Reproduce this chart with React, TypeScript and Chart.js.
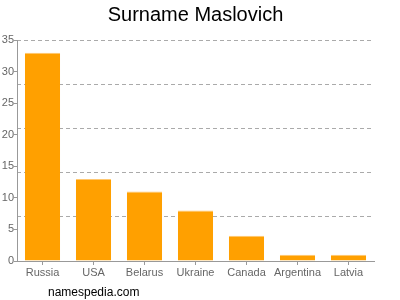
import React, { useEffect, useRef } from "react";
import { Chart, registerables } from "chart.js";

Chart.register(...registerables);

const categories = ["Russia", "USA", "Belarus", "Ukraine", "Canada", "Argentina", "Latvia"];
const counts = [33, 13, 11, 8, 4, 1, 1];
const titleText = "Surname Maslovich";
const footerText = "namespedia.com";

const textPlugin = {
  id: "texts",
  afterDraw(chart: any) {
    const ctx = chart.ctx;
    const area = chart.chartArea;
    ctx.save();
    ctx.fillStyle = "#000";
    ctx.font = "20px 'Liberation Sans', Arial, sans-serif";
    ctx.textAlign = "center";
    ctx.textBaseline = "alphabetic";
    ctx.fillText(titleText, (area.left + area.right) / 2, 21);
    ctx.font = "12px 'Liberation Sans', Arial, sans-serif";
    ctx.textAlign = "left";
    ctx.fillText(footerText, 48, 296);
    ctx.restore();
  },
};

export default function App() {
  const ref = useRef<HTMLCanvasElement>(null);
  useEffect(() => {
    const chart = new Chart(ref.current!, {
      type: "bar",
      data: {
        labels: categories,
        datasets: [
          {
            data: counts,
            backgroundColor: "#ffa000",
            borderColor: "#ffc870",
            borderWidth: { top: 1, left: 0, right: 0, bottom: 0 },
            borderSkipped: "bottom",
            barPercentage: 0.69,
            categoryPercentage: 1,
          },
        ],
      },
      options: {
        animation: false,
        responsive: false,
        layout: { padding: { top: 40, right: 26, left: 0, bottom: 0 } },
        plugins: { legend: { display: false }, tooltip: { enabled: false }, title: { display: false } },
        scales: {
          x: {
            grid: { display: true, drawOnChartArea: false, drawTicks: true, tickLength: 4, offset: false, color: "#999" },
            border: { display: true, color: "#999" },
            ticks: { color: "#666", font: { size: 11, family: "'Liberation Sans', Arial, sans-serif" }, padding: 1, maxRotation: 0, autoSkip: false },
            afterFit: (s: any) => { s.height = 39; },
          },
          y: {
            min: 0,
            max: 35,
            position: "left",
            grid: { display: true, drawOnChartArea: false, drawTicks: true, tickLength: 3, color: "#999" },
            border: { display: true, color: "#999" },
            ticks: { stepSize: 5, color: "#666", font: { size: 11, family: "'Liberation Sans', Arial, sans-serif" }, padding: 0 },
            afterFit: (s: any) => { s.width = 17; },
          },
          y2: {
            min: 0,
            max: 35,
            position: "left",
            grid: {
              display: true,
              drawTicks: false,
              color: (c: any) => (c.tick && c.tick.value === 0 ? "rgba(0,0,0,0)" : "#aaa"),
            },
            border: { display: false, dash: [4, 3] },
            ticks: { display: false, stepSize: 7 },
            afterFit: (s: any) => { s.width = 0; },
          },
        },
      },
      plugins: [textPlugin],
    });
    return () => chart.destroy();
  }, []);
  return (
    <div style={{ position: "absolute", left: 0, top: 0, width: 400, height: 300, background: "#fff" }}>
      <canvas ref={ref} width={400} height={300} />
    </div>
  );
}
